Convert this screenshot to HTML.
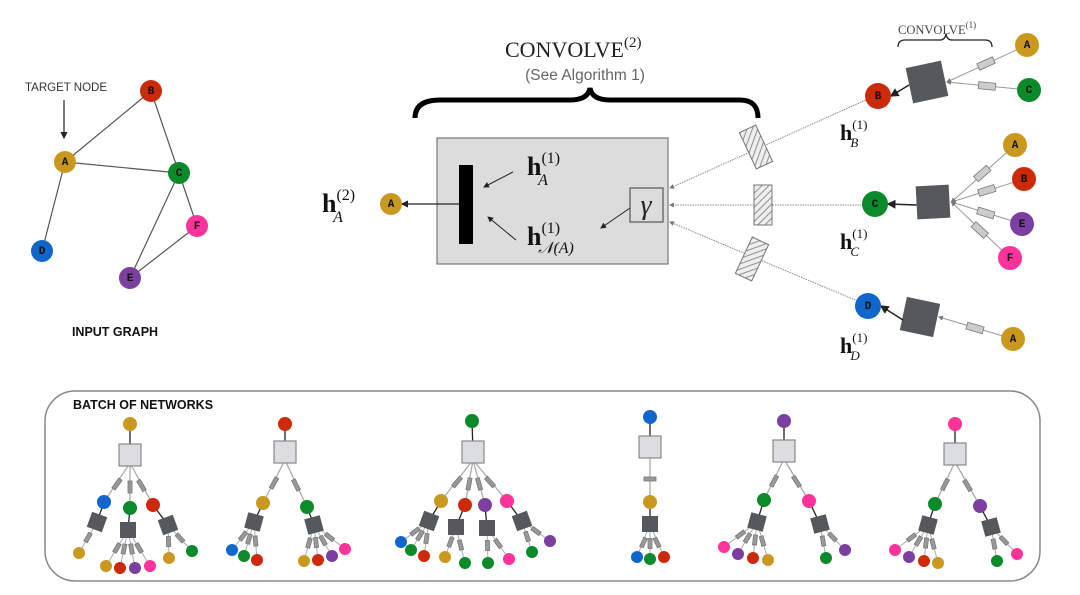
<!DOCTYPE html>
<html><head><meta charset="utf-8"><style>
html,body{margin:0;padding:0;background:#fff;}
svg{display:block;}
.nl{font-family:"Liberation Mono",monospace;font-weight:bold;font-size:11px;fill:#111;text-anchor:middle;dominant-baseline:central;}
.ser{font-family:"Liberation Serif",serif;}
</style></head><body>
<svg id="s" width="1080" height="595" viewBox="0 0 1080 595" xmlns="http://www.w3.org/2000/svg">
<defs>
<pattern id="hatch" width="5" height="5" patternUnits="userSpaceOnUse" patternTransform="rotate(45)">
<rect width="5" height="5" fill="#eee"/><line x1="0" y1="0" x2="0" y2="5" stroke="#777" stroke-width="1.6"/></pattern>
<marker id="ar" markerWidth="6" markerHeight="6" refX="5" refY="3" orient="auto"><path d="M0,0 L6,3 L0,6z" fill="#222"/></marker>
<marker id="ag" markerWidth="5" markerHeight="5" refX="4" refY="2.5" orient="auto"><path d="M0,0 L5,2.5 L0,5z" fill="#777"/></marker>
</defs>
<!-- input graph -->
<g stroke="#555" stroke-width="1.2">
<line x1="65" y1="162" x2="151" y2="91"/><line x1="65" y1="162" x2="179" y2="173"/>
<line x1="65" y1="162" x2="42" y2="251"/><line x1="151" y1="91" x2="179" y2="173"/>
<line x1="179" y1="173" x2="197" y2="226"/><line x1="179" y1="173" x2="130" y2="278"/>
<line x1="197" y1="226" x2="130" y2="278"/>
</g>
<text x="25" y="91" font-family="Liberation Sans" font-size="11.5" fill="#333">TARGET NODE</text>
<line x1="64" y1="100" x2="64" y2="138" stroke="#222" stroke-width="1.2" marker-end="url(#ar)"/>
<g id="big"></g>
<text x="115" y="336" font-family="Liberation Sans" font-weight="bold" font-size="12.5" text-anchor="middle" fill="#111">INPUT GRAPH</text>

<!-- convolve 2 -->
<text x="505" y="57" class="ser" font-size="22" fill="#222">CONVOLVE<tspan font-size="15" dy="-10">(2)</tspan></text>
<text x="585" y="80" font-family="Liberation Sans" font-size="15.5" fill="#666" text-anchor="middle">(See Algorithm 1)</text>
<path d="M415,118 Q415,100 440,100 L570,100 Q588,100 590,88 Q592,100 610,100 L740,100 Q758,100 758,118" fill="none" stroke="#000" stroke-width="5"/>
<rect x="437" y="138" width="231" height="126" fill="#dcdcdc" stroke="#777" stroke-width="1.2"/>
<rect x="459" y="165" width="14" height="79" fill="#000"/>
<line x1="459" y1="204" x2="402" y2="204" stroke="#222" stroke-width="1.2" marker-end="url(#ar)"/>
<text x="527" y="175" class="ser" font-size="26" font-weight="bold" fill="#111">h<tspan font-size="16" font-weight="normal" dy="-12">(1)</tspan><tspan font-size="16" font-style="italic" font-weight="normal" dx="-22" dy="22">A</tspan></text>
<text x="527" y="245" class="ser" font-size="26" font-weight="bold" fill="#111">h<tspan font-size="16" font-weight="normal" dy="-12">(1)</tspan><tspan font-size="16" font-style="italic" font-weight="normal" dx="-22" dy="20">𝒩(A)</tspan></text>
<line x1="513" y1="172" x2="484" y2="187" stroke="#222" stroke-width="1" marker-end="url(#ar)"/>
<line x1="516" y1="240" x2="488" y2="217" stroke="#222" stroke-width="1" marker-end="url(#ar)"/>
<rect x="630" y="188" width="33" height="34" fill="none" stroke="#555" stroke-width="1.2"/>
<text x="646" y="214" class="ser" font-size="28" font-style="italic" text-anchor="middle" fill="#222">γ</text>
<line x1="630" y1="208" x2="601" y2="228" stroke="#222" stroke-width="1" marker-end="url(#ar)"/>
<text x="322" y="212" class="ser" font-size="26" font-weight="bold" fill="#111">h<tspan font-size="16" font-weight="normal" dy="-12">(2)</tspan><tspan font-size="16" font-style="italic" font-weight="normal" dx="-22" dy="22">A</tspan></text>

<!-- dotted lines to hidden nodes -->
<g stroke="#888" stroke-width="1" stroke-dasharray="1.5,1" fill="none">
<line x1="868" y1="99" x2="670" y2="188" marker-end="url(#ag)"/>
<line x1="864" y1="205" x2="670" y2="205" marker-end="url(#ag)"/>
<line x1="860" y1="302" x2="670" y2="222" marker-end="url(#ag)"/>
</g>
<rect x="-9" y="-20" width="18" height="40" fill="url(#hatch)" stroke="#777" transform="translate(756,147) rotate(-25)"/>
<rect x="-9" y="-20" width="18" height="40" fill="url(#hatch)" stroke="#777" transform="translate(763,205)"/>
<rect x="-9" y="-20" width="18" height="40" fill="url(#hatch)" stroke="#777" transform="translate(752,259) rotate(25)"/>

<text x="898" y="34" class="ser" font-size="12.5" fill="#444">CONVOLVE<tspan font-size="9" dy="-6">(1)</tspan></text>
<path d="M898,47 Q898,40 905,40 L940,40 Q945,40 946,34 Q947,40 952,40 L985,40 Q992,40 992,47" fill="none" stroke="#222" stroke-width="1.3"/>
<g id="right"></g>
<text x="840" y="140" class="ser" font-size="22" font-weight="bold" fill="#111">h<tspan font-size="13" font-weight="normal" dy="-11">(1)</tspan><tspan font-size="13" font-style="italic" font-weight="normal" dx="-17" dy="18">B</tspan></text>
<text x="840" y="249" class="ser" font-size="22" font-weight="bold" fill="#111">h<tspan font-size="13" font-weight="normal" dy="-11">(1)</tspan><tspan font-size="13" font-style="italic" font-weight="normal" dx="-17" dy="18">C</tspan></text>
<text x="840" y="353" class="ser" font-size="22" font-weight="bold" fill="#111">h<tspan font-size="13" font-weight="normal" dy="-11">(1)</tspan><tspan font-size="13" font-style="italic" font-weight="normal" dx="-17" dy="18">D</tspan></text>

<!-- batch -->
<rect x="45" y="391" width="995" height="190" rx="30" fill="none" stroke="#888" stroke-width="1.5"/>
<text x="73" y="409" font-family="Liberation Sans" font-weight="bold" font-size="12.5" fill="#111">BATCH OF NETWORKS</text>
<g id="batch"></g>
</svg>
<script>
var C={A:"#c9991f",B:"#cc2a0a",C:"#0a8a2a",D:"#1166cc",E:"#7a3fa0",F:"#ff3399"};
var NS="http://www.w3.org/2000/svg";
function el(p,t,a){var e=document.createElementNS(NS,t);for(var k in a)e.setAttribute(k,a[k]);p.appendChild(e);return e;}
function node(p,x,y,r,k,lab){el(p,"circle",{cx:x,cy:y,r:r,fill:C[k]});if(lab){var t=el(p,"text",{x:x,y:y+1,"class":"nl"});t.textContent=k;}}
function sr(p,x1,y1,x2,y2,w,h,f){var mx=(x1+x2)/2,my=(y1+y2)/2,a=Math.atan2(y2-y1,x2-x1)*180/Math.PI+90;
 el(p,"rect",{x:-w/2,y:-h/2,width:w,height:h,fill:f||"#aaa",stroke:"#777","stroke-width":0.8,transform:"translate("+mx+","+my+") rotate("+a+")"});}
// big graph
var g=document.getElementById("big");
[["A",65,162],["B",151,91],["C",179,173],["D",42,251],["E",130,278],["F",197,226]].forEach(function(n){node(g,n[1],n[2],11,n[0],1);});
var ga=document.getElementById("s");
node(ga,391,204,11,"A",1);
// right side
var r=document.getElementById("right");
function dk(x,y,s,rot){el(r,"rect",{x:-s/2,y:-s/2,width:s,height:s,fill:"#55585c",transform:"translate("+x+","+y+") rotate("+rot+")"});}
function grp(nx,ny,k,bx,by,s,rot,leaves){
 leaves.forEach(function(l){el(r,"line",{x1:l[1],y1:l[2],x2:bx+s/2+2,y2:by,stroke:"#999","stroke-width":1,"marker-end":"url(#ag)"});
  sr(r,l[1],l[2],bx+s/2,by,7,17,"#ccc");node(r,l[1],l[2],12,l[0],1);});
 dk(bx,by,s,rot);
 el(r,"line",{x1:bx-s/2,y1:by+3,x2:nx+13,y2:ny,stroke:"#222","stroke-width":1.5,"marker-end":"url(#ar)"});
 node(r,nx,ny,13,k,1);}
grp(878,96,"B",927,82,36,-12,[["A",1027,45],["C",1029,90]]);
grp(875,204,"C",933,202,33,-3,[["A",1015,145],["B",1024,179],["E",1022,224],["F",1010,258]]);
grp(868,306,"D",920,317,34,12,[["A",1013,339]]);
// batch trees
var b=document.getElementById("batch");
function tree(rx,ry,bx,by,kids){
 el(b,"line",{x1:rx,y1:ry,x2:bx,y2:by,stroke:"#222","stroke-width":1.3});
 kids.forEach(function(c){
  el(b,"line",{x1:c.x,y1:c.y,x2:bx,y2:by+8,stroke:"#aaa","stroke-width":1.3});
  sr(b,c.x,c.y,bx,by+11,4,12,"#999");
  if(c.d){el(b,"line",{x1:c.x,y1:c.y,x2:c.d[0],y2:c.d[1],stroke:"#222","stroke-width":1.3});
   c.l.forEach(function(l){el(b,"line",{x1:l[1],y1:l[2],x2:c.d[0],y2:c.d[1],stroke:"#aaa","stroke-width":1});
    sr(b,l[1],l[2],c.d[0],c.d[1],4,10,"#999");node(b,l[1],l[2],6,l[0]);});
   el(b,"rect",{x:c.d[0]-8,y:c.d[1]-8,width:16,height:16,fill:"#55585c",transform:"rotate("+(c.rot||0)+" "+c.d[0]+" "+c.d[1]+")"});}
  node(b,c.x,c.y,7,c.k);});
 el(b,"rect",{x:bx-11,y:by-11,width:22,height:22,fill:"#dcdde0",stroke:"#888","stroke-width":1.2});
}
tree(130,424,130,455,[{x:104,y:502,k:"D",d:[97,522],rot:20,l:[["A",79,553]]},{x:130,y:508,k:"C",d:[128,530],l:[["A",106,566],["B",120,568],["E",135,568],["F",150,566]]},{x:153,y:505,k:"B",d:[168,525],rot:-20,l:[["A",169,558],["C",192,551]]}]);
tree(285,424,285,452,[{x:263,y:503,k:"A",d:[254,522],rot:15,l:[["D",232,550],["C",244,556],["B",257,560]]},{x:307,y:507,k:"C",d:[314,525],rot:-15,l:[["A",304,561],["B",318,560],["E",332,556],["F",345,549]]}]);
tree(472,421,473,452,[{x:441,y:501,k:"A",d:[429,521],rot:20,l:[["D",401,542],["C",411,550],["B",424,556]]},{x:465,y:505,k:"B",d:[456,527],l:[["A",445,557],["C",465,563]]},{x:485,y:505,k:"E",d:[487,528],l:[["C",488,563],["F",509,559]]},{x:507,y:501,k:"F",d:[522,521],rot:-20,l:[["C",532,552],["E",550,541]]}]);
// tree 4 (linear)
el(b,"line",{x1:650,y1:417,x2:650,y2:447,stroke:"#222","stroke-width":1.3});
el(b,"line",{x1:650,y1:502,x2:650,y2:455,stroke:"#aaa","stroke-width":1.3});
el(b,"rect",{x:644,y:477,width:12,height:4,fill:"#999",stroke:"#777","stroke-width":0.8});
el(b,"line",{x1:650,y1:502,x2:650,y2:524,stroke:"#222","stroke-width":1.3});
[["D",637,557],["C",650,559],["B",664,557]].forEach(function(l){el(b,"line",{x1:l[1],y1:l[2],x2:650,y2:524,stroke:"#aaa","stroke-width":1});sr(b,l[1],l[2],650,528,4,10,"#999");node(b,l[1],l[2],6,l[0]);});
el(b,"rect",{x:642,y:516,width:16,height:16,fill:"#55585c"});
node(b,650,502,7,"A");node(b,650,417,7,"D");
el(b,"rect",{x:639,y:436,width:22,height:22,fill:"#dcdde0",stroke:"#888","stroke-width":1.2});
tree(784,421,784,451,[{x:764,y:500,k:"C",d:[757,522],rot:15,l:[["F",724,547],["E",738,554],["B",753,558],["A",768,560]]},{x:809,y:501,k:"F",d:[820,524],rot:-15,l:[["C",826,558],["E",845,550]]}]);
tree(955,424,955,454,[{x:935,y:504,k:"C",d:[928,525],rot:15,l:[["F",895,550],["E",909,557],["B",924,561],["A",938,563]]},{x:980,y:506,k:"E",d:[991,527],rot:-15,l:[["C",997,561],["F",1017,554]]}]);
// roots on top
[[130,424,"A"],[285,424,"B"],[472,421,"C"],[784,421,"E"],[955,424,"F"]].forEach(function(n){node(b,n[0],n[1],7,n[2]);});
</script>
</body></html>
